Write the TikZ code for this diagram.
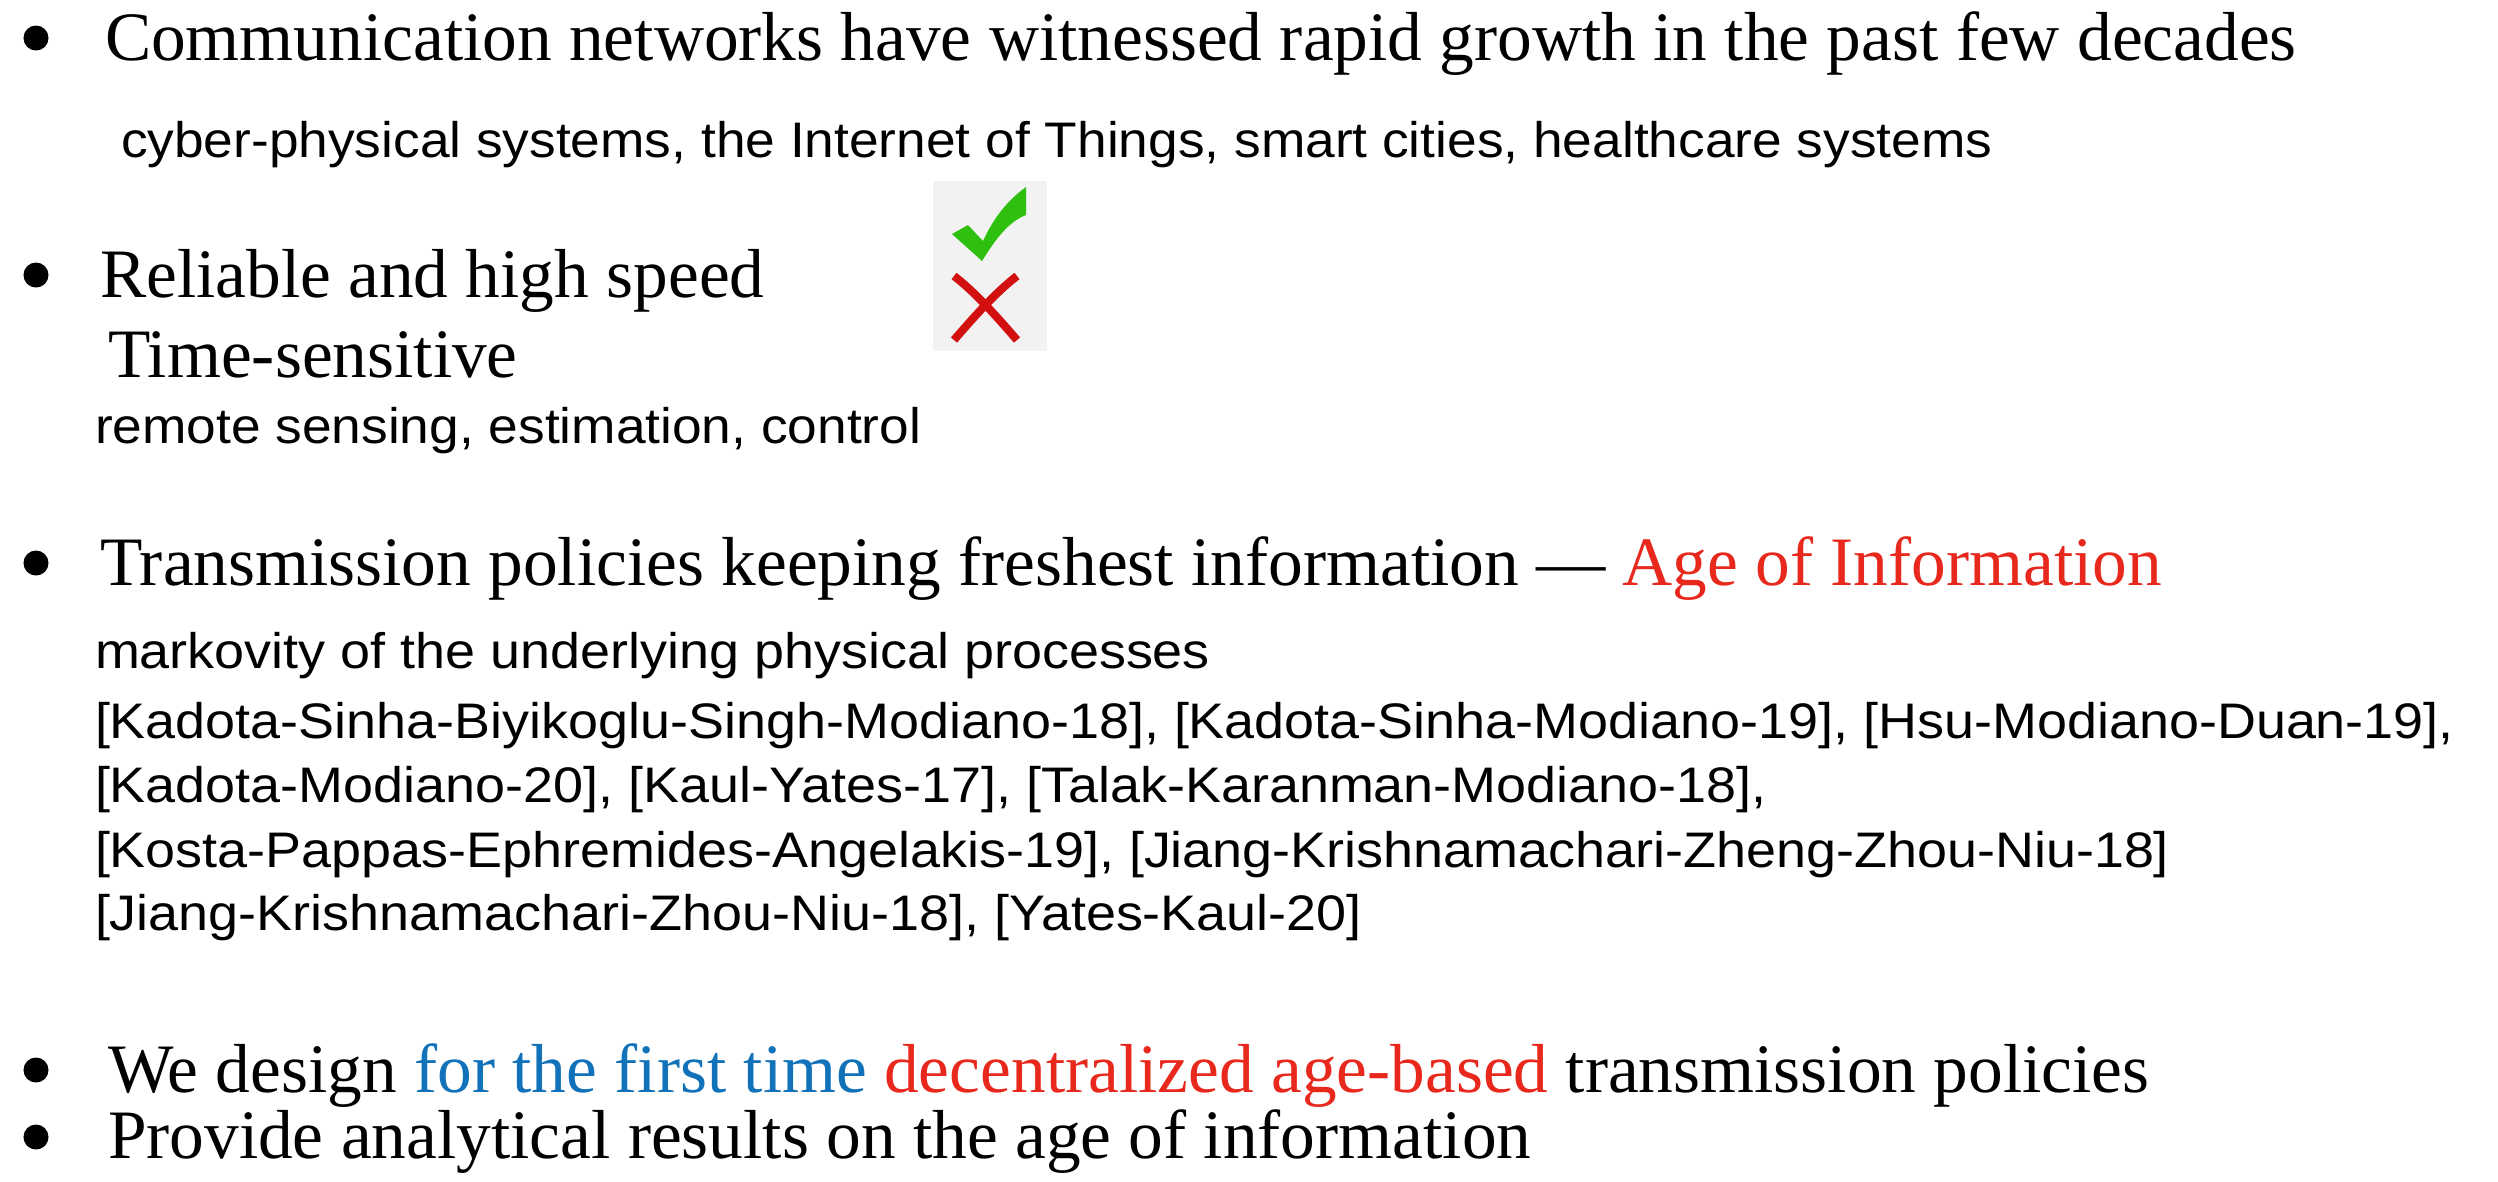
\documentclass[tikz,border=0pt]{standalone}
\usepackage{fontspec}
\setmainfont{Liberation Serif}
\setsansfont{Liberation Sans}
% slightly wide sans cuts for the small lines
\newfontfamily\notesans[FakeStretch=1.067]{Liberation Sans}
\newfontfamily\refsans[FakeStretch=1.08]{Liberation Sans}
\definecolor{aoired}{HTML}{E8281C}
\definecolor{firstblue}{HTML}{1172BA}
\definecolor{tickgreen}{HTML}{2EBF0F}
\definecolor{crossred}{HTML}{D31010}
\definecolor{iconbg}{HTML}{F2F2F2}
\begin{document}
\begin{tikzpicture}[x=0.01cm,y=-0.01cm,
  big/.style={anchor=base west,inner sep=0pt,outer sep=0pt,font=\fontsize{19.72}{22}\selectfont},
  small/.style={anchor=base west,inner sep=0pt,outer sep=0pt,font=\notesans\fontsize{14.2}{16}\selectfont},
  refline/.style={anchor=base west,inner sep=0pt,outer sep=0pt,font=\refsans\fontsize{14.2}{16}\selectfont},
  dot/.style={circle,fill=black,inner sep=0pt,minimum size=0.25cm}]
\useasboundingbox (0,0) rectangle (2498,1181);

% first bullet
\node[dot] (b1) at (36,38) {};
\node[big] (l1) at (105,60) {Communication networks have witnessed rapid growth in the past few decades};
\node[small] (l2) at (121,157) {cyber-physical systems, the Internet of Things, smart cities, healthcare systems};

% second bullet
\node[dot] (b2) at (36,275) {};
\node[big] (l3) at (100,297) {Reliable and high speed};
\node[big] (l4) at (108,377) {Time-sensitive};
\node[small] (l5) at (95,443) {remote sensing, estimation, control};

% tick and cross icon
\fill[iconbg] (933,181) rectangle (1047,351);
\fill[tickgreen] (982,261) .. controls (995,240) and (1008,222) .. (1026,215)
  -- (1026,187) .. controls (1008,200) and (994,217) .. (983,241)
  -- (968,225) -- (952,234) -- cycle;
\draw[crossred,line width=2.3pt] (954,276) .. controls (975,292) and (998,318) .. (1017,340);
\draw[crossred,line width=2.3pt] (1017,276) .. controls (996,292) and (973,318) .. (954,340);

% third bullet
\node[dot] (b3) at (36,563) {};
\node[big] (l6) at (100,585) {Transmission policies keeping freshest information --- \textcolor{aoired}{Age of Information}};
\node[refline] (l7) at (95,668) {markovity of the underlying physical processes};
\node[refline] (l8) at (95,738) {[Kadota-Sinha-Biyikoglu-Singh-Modiano-18], [Kadota-Sinha-Modiano-19], [Hsu-Modiano-Duan-19],};
\node[refline] (l9) at (95,802) {[Kadota-Modiano-20], [Kaul-Yates-17], [Talak-Karanman-Modiano-18],};
\node[refline] (l10) at (95,867) {[Kosta-Pappas-Ephremides-Angelakis-19], [Jiang-Krishnamachari-Zheng-Zhou-Niu-18]};
\node[refline] (l11) at (95,930) {[Jiang-Krishnamachari-Zhou-Niu-18], [Yates-Kaul-20]};

% last two bullets
\node[dot] (b4) at (36,1070) {};
\node[big] (l12) at (108,1092) {We design \textcolor{firstblue}{for the first time} \textcolor{aoired}{decentralized age-based} transmission policies};
\node[dot] (b5) at (36,1137) {};
\node[big] (l13) at (108,1158) {Provide analytical results on the age of information};
\end{tikzpicture}
\end{document}
